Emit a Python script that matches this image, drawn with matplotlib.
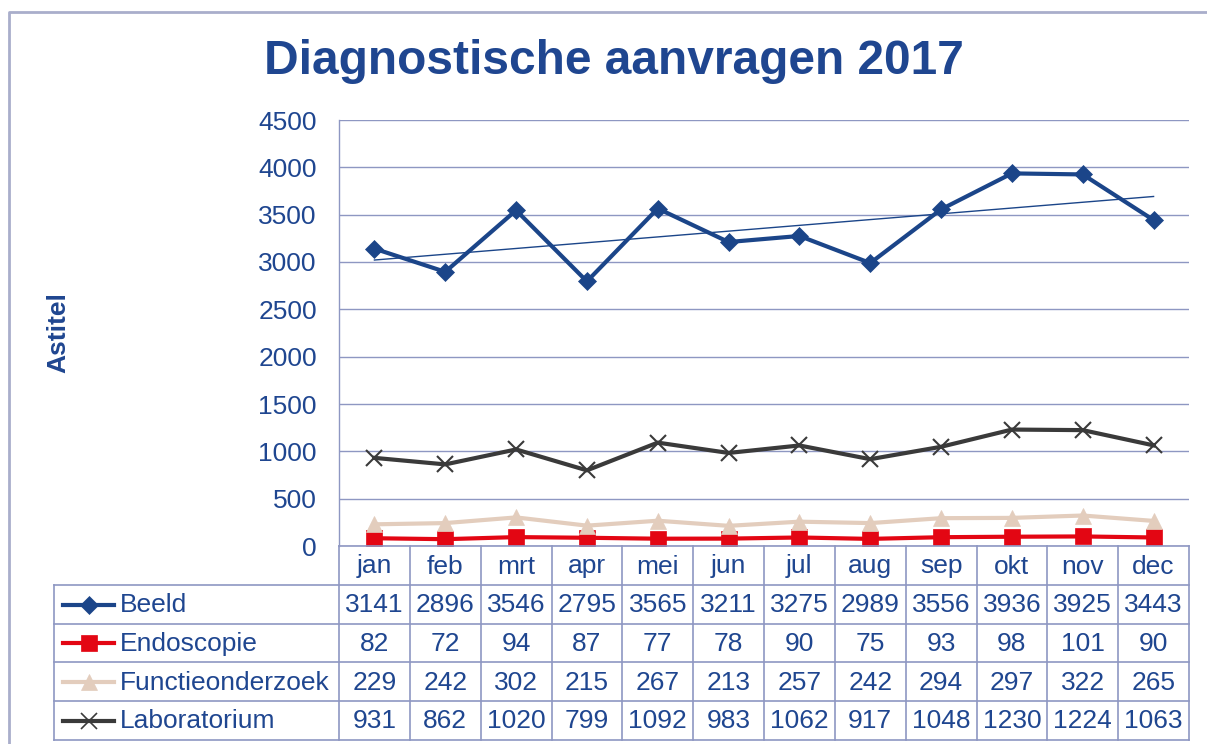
import numpy as np
import matplotlib.pyplot as plt

months = ['jan', 'feb', 'mrt', 'apr', 'mei', 'jun', 'jul', 'aug', 'sep', 'okt', 'nov', 'dec']
beeld = [3141, 2896, 3546, 2795, 3565, 3211, 3275, 2989, 3556, 3936, 3925, 3443]
endoscopie = [82, 72, 94, 87, 77, 78, 90, 75, 93, 98, 101, 90]
functie = [229, 242, 302, 215, 267, 213, 257, 242, 294, 297, 322, 265]
laboratorium = [931, 862, 1020, 799, 1092, 983, 1062, 917, 1048, 1230, 1224, 1063]

series_names = ['Beeld', 'Endoscopie', 'Functieonderzoek', 'Laboratorium']
series_values = [beeld, endoscopie, functie, laboratorium]

TXT = '#1F4690'
GRID = '#8E97C2'
colors = ['#1B4589', '#E30613', '#E3CDBD', '#3A3A3A']
markers = ['D', 's', '^', 'x']
msizes = [9, 11, 11, 12]
FS = 19

plt.rcParams['font.family'] = ['Liberation Sans', 'DejaVu Sans']

W, H = 1207, 744
fig = plt.figure(figsize=(W / 100, H / 100), dpi=100)

# plot area in pixels
L, R, T, B = 339, 1189, 120, 546
ax = fig.add_axes([L / W, 1 - B / H, (R - L) / W, (B - T) / H])
x = np.arange(len(months))
for name, vals, c, m, ms in zip(series_names, series_values, colors, markers, msizes):
    ax.plot(x, vals, color=c, lw=3, marker=m, ms=ms, mew=1.5 if m == 'x' else 0.5,
            mec=c, mfc=c, zorder=3)

# linear trend for Beeld
coef = np.polyfit(x, beeld, 1)
ax.plot(x, np.polyval(coef, x), color=colors[0], lw=1.0, zorder=2)

ax.set_xlim(-0.5, len(months) - 0.5)
ax.set_ylim(0, 4500)
ax.set_yticks(np.arange(0, 4501, 500))
ax.yaxis.grid(True, color=GRID, lw=1)
ax.set_axisbelow(True)
ax.set_xticks([])
ax.tick_params(axis='y', length=0, pad=16, labelsize=FS, labelcolor=TXT)
for s in ['top', 'right', 'bottom']:
    ax.spines[s].set_visible(False)
ax.spines['left'].set_color(GRID)
ax.spines['left'].set_linewidth(1)

# overlay for title, border and data table (pixel coordinates)
ov = fig.add_axes([0, 0, 1, 1], zorder=-1)
ov.set_xlim(0, W)
ov.set_ylim(H, 0)
ov.axis('off')
ov2 = fig.add_axes([0, 0, 1, 1], zorder=5)
ov2.set_xlim(0, W)
ov2.set_ylim(H, 0)
ov2.axis('off')
ov2.patch.set_alpha(0)

# outer frame
ov.plot([9, 9, W + 5], [H + 5, 12, 12], color='#A9AECB', lw=2)

ov2.text(614, 62, 'Diagnostische aanvragen 2017', ha='center', va='center',
         fontsize=34.5, fontweight='bold', color=TXT)
ov2.text(58, 333, 'Astitel', rotation=90, ha='center', va='center',
         fontsize=19, fontweight='bold', color=TXT)

# data table
colw = (R - L) / len(months)
row_edges = [546, 585, 624, 662, 701, 740]
LEG_L = 54
lc = dict(color=GRID, lw=1.2)
for i in range(len(months) + 1):
    ov2.plot([L + i * colw] * 2, [row_edges[0], row_edges[-1]], **lc)
ov2.plot([LEG_L, LEG_L], [row_edges[1], row_edges[-1]], **lc)
for k, y in enumerate(row_edges):
    x0 = L if k == 0 else LEG_L
    ov2.plot([x0, R], [y, y], **lc)

for i, mth in enumerate(months):
    ov2.text(L + (i + 0.5) * colw, (row_edges[0] + row_edges[1]) / 2 + 1, mth,
             ha='center', va='center', fontsize=FS, color=TXT)

for r, (name, vals, c, m, ms) in enumerate(zip(series_names, series_values, colors, markers, msizes)):
    yc = (row_edges[r + 1] + row_edges[r + 2]) / 2 + 1
    ov2.plot([63, 114], [yc - 1, yc - 1], color=c, lw=3)
    ov2.plot([88.5], [yc - 1], marker=m, ms=ms, color=c, mec=c,
             mew=1.2 if m == 'x' else 0.5)
    ov2.text(120, yc, name, ha='left', va='center', fontsize=FS, color=TXT)
    for i, v in enumerate(vals):
        ov2.text(L + (i + 0.5) * colw, yc, str(v), ha='center', va='center',
                 fontsize=FS, color=TXT)

plt.savefig('out.png', dpi=100)
